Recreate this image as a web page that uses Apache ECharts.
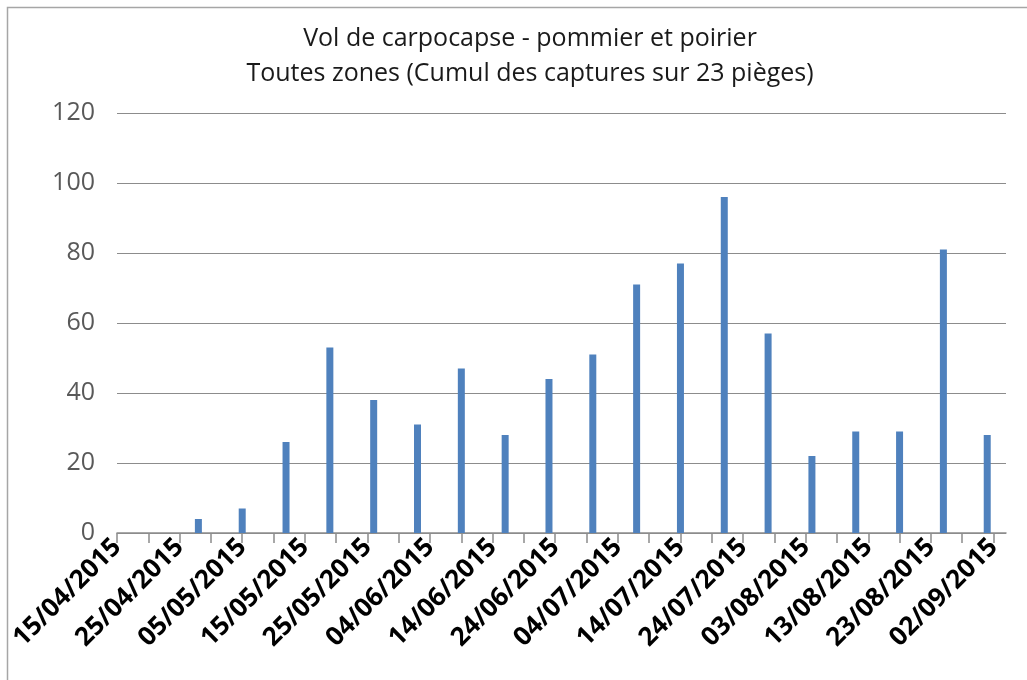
<!DOCTYPE html>
<html>
<head>
<meta charset="utf-8">
<script src="https://cdn.jsdelivr.net/npm/echarts@6/dist/echarts.min.js"></script>
<style>
  html, body { margin: 0; padding: 0; background: #fff; }
  #chart { width: 1027px; height: 680px; }
</style>
</head>
<body>
<div id="chart"></div>
<script>
// relevés hebdomadaires
const captureDates = ['28/04/2015', '05/05/2015', '12/05/2015', '19/05/2015', '26/05/2015',
    '02/06/2015', '09/06/2015', '16/06/2015', '23/06/2015', '30/06/2015',
    '07/07/2015', '14/07/2015', '21/07/2015', '28/07/2015', '04/08/2015',
    '11/08/2015', '18/08/2015', '25/08/2015', '01/09/2015'];
const captures = [4, 7, 26, 53, 38, 31, 47, 28, 44, 51, 71, 77, 96, 57, 22, 29, 29, 81, 28];

const tickLabels = ['15/04/2015', '25/04/2015', '05/05/2015', '15/05/2015', '25/05/2015',
    '04/06/2015', '14/06/2015', '24/06/2015', '04/07/2015', '14/07/2015',
    '24/07/2015', '03/08/2015', '13/08/2015', '23/08/2015', '02/09/2015'];
const yTicks = [0, 20, 40, 60, 80, 100, 120];

const startDate = '15/04/2015';
const endDate = '04/09/2015';

// jours depuis le début de l'axe
const dayOf = (s) => {
    const p = s.split('/');
    const t = Date.UTC(+p[2], +p[1] - 1, +p[0]);
    const p0 = startDate.split('/');
    return Math.round((t - Date.UTC(+p0[2], +p0[1] - 1, +p0[0])) / 86400000);
};

const labelDays = tickLabels.map(dayOf);
const tickDays = [];
for (let d = 0; d <= labelDays[labelDays.length - 1]; d += 5) tickDays.push(d);

const chart = echarts.init(document.getElementById('chart'));

chart.setOption({
    animation: false,
    graphic: [{
        type: 'rect',
        shape: { x: 7.5, y: 7.5, width: 1200, height: 1000 },
        style: { fill: 'none', stroke: '#a6a6a6', lineWidth: 1.5 },
        silent: true
    }],
    title: {
        text: 'Vol de carpocapse - pommier et poirier\nToutes zones (Cumul des captures sur 23 pièges)',
        left: 525,
        textAlign: 'center',
        top: 16,
        textStyle: {
            fontFamily: 'Open Sans',
            fontWeight: 'normal',
            fontSize: 25,
            lineHeight: 35,
            color: '#1a1a1a'
        }
    },
    grid: { left: 117, right: 21, top: 113, bottom: 147 },
    xAxis: {
        type: 'value',
        min: 0,
        max: dayOf(endDate),
        splitLine: { show: false },
        axisLine: { lineStyle: { color: '#8c8c8c', width: 1.5 } },
        axisTick: {
            customValues: tickDays,
            length: 10,
            lineStyle: { color: '#8c8c8c', width: 1.5 }
        },
        axisLabel: {
            customValues: labelDays,
            rotate: 45,
            margin: 10,
            fontFamily: 'Open Sans',
            fontWeight: 'bold',
            fontSize: 26,
            color: '#000',
            formatter: (v) => tickLabels[labelDays.indexOf(Math.round(v))] || ''
        }
    },
    yAxis: {
        type: 'value',
        min: yTicks[0],
        max: yTicks[yTicks.length - 1],
        interval: yTicks[1] - yTicks[0],
        axisLine: { show: false },
        axisTick: { show: false },
        axisLabel: {
            margin: 22,
            fontFamily: 'Open Sans',
            fontSize: 25,
            color: '#595959'
        },
        splitLine: { lineStyle: { color: '#8c8c8c', width: 1.2 } }
    },
    series: [{
        type: 'bar',
        barWidth: 7,
        itemStyle: { color: '#4F81BD' },
        data: captureDates.map((d, i) => [dayOf(d), captures[i]])
    }]
});
</script>
</body>
</html>
